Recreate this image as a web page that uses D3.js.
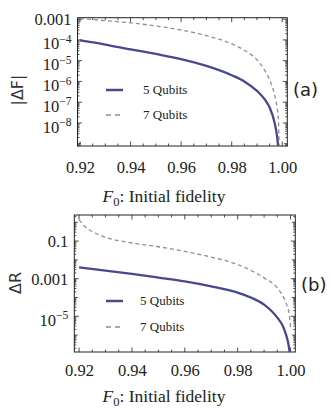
<!DOCTYPE html>
<html>
<head>
<meta charset="utf-8">
<script src="https://cdn.jsdelivr.net/npm/d3@7"></script>
<style>
body { margin: 0; background: #fff; }
svg { display: block; }
</style>
</head>
<body>
<div id="chart"></div>
<script>
// Panel (a): |ΔF| against initial fidelity
const fA5 = [0.92, 0.93, 0.94, 0.95, 0.96, 0.97, 0.98, 0.985, 0.99, 0.993, 0.995, 0.997, 0.998, 0.9985];
const dF5 = [9.5e-5, 6.0e-5, 3.5e-5, 2.1e-5, 1.2e-5, 5.6e-6, 2.0e-6, 1.0e-6, 3.5e-7, 1.4e-7, 5.6e-8, 1.0e-8, 2.0e-9, 5e-10];
const fA7 = [0.92, 0.93, 0.94, 0.95, 0.96, 0.97, 0.98, 0.985, 0.99, 0.993, 0.995, 0.997, 0.998, 0.9985, 0.9988];
const dF7 = [1.07e-3, 8.5e-4, 6.6e-4, 4.7e-4, 3.0e-4, 1.6e-4, 6.5e-5, 3.2e-5, 1.1e-5, 3.5e-6, 1.2e-6, 2.2e-7, 5.2e-8, 1.4e-8, 5e-10];

// Panel (b): ΔR against initial fidelity
const fB5 = [0.92, 0.93, 0.94, 0.95, 0.96, 0.97, 0.98, 0.985, 0.99, 0.993, 0.995, 0.997, 0.998, 0.999, 0.9998];
const dR5 = [4.0e-3, 2.7e-3, 1.8e-3, 1.15e-3, 7.2e-4, 3.9e-4, 1.8e-4, 1.0e-4, 4.2e-5, 1.8e-5, 8.5e-6, 3.2e-6, 1.4e-6, 4.5e-7, 1.0e-7];
const fB7 = [0.92, 0.922, 0.925, 0.93, 0.94, 0.95, 0.96, 0.97, 0.98, 0.99, 0.995, 0.998, 0.9995, 1.0];
const dR7 = [1.4, 0.63, 0.32, 0.16, 0.079, 0.05, 0.028, 0.014, 5.6e-3, 1.1e-3, 3.2e-4, 6.3e-5, 1.3e-5, 2.5e-6];

const seriesNames = ["5 Qubits", "7 Qubits"];
const xTicks = [0.92, 0.94, 0.96, 0.98, 1.00];
const yTicksA = [1e-3, 1e-4, 1e-5, 1e-6, 1e-7, 1e-8];
const yTicksB = [1e-1, 1e-3, 1e-5];

const solidColor = "#48488f";
const dashColor = "#a08699";
const serif = "'Liberation Serif', 'Times New Roman', serif";
const sans = "'DejaVu Sans', sans-serif";

const svg = d3.select("#chart")
  .append("svg")
  .attr("width", 332)
  .attr("height", 408);

// tick labels: decimals for 0.1 / 0.001, powers of ten otherwise
function yLabel(text, v) {
  const e = Math.round(Math.log10(v));
  if (e >= -3) {
    text.text(String(v));
  } else {
    text.append("tspan").text("10");
    text.append("tspan")
      .attr("dy", -6.5)
      .attr("font-size", "11.5px")
      .text("\u2212" + (-e));
  }
}

function drawPanel(p, idx) {
  const x = d3.scaleLinear().domain(p.xDomain).range([p.left, p.right]);
  const y = d3.scaleLog().domain(p.yDomain).range([p.bottom, p.top]);
  const g = svg.append("g");

  g.append("clipPath").attr("id", "clip" + idx)
    .append("rect")
    .attr("x", p.left).attr("y", p.top)
    .attr("width", p.right - p.left).attr("height", p.bottom - p.top);

  // minor / major ticks, on all four sides, pointing inward
  const xMinor = d3.range(0.92, 1.0001, 0.005).filter(v => v >= p.xDomain[0] && v <= p.xDomain[1]);
  const yMinor = [];
  const lo = Math.floor(Math.log10(p.yDomain[0])), hi = Math.ceil(Math.log10(p.yDomain[1]));
  for (let e = lo; e <= hi; e++) {
    for (let k = 1; k <= 9; k++) {
      const v = k * Math.pow(10, e);
      if (v >= p.yDomain[0] && v <= p.yDomain[1]) {
        const labelled = p.yTicks.some(t => Math.abs(Math.log10(t) - e) < 1e-9);
        yMinor.push({v: v, len: k === 1 ? (labelled ? 4.5 : 3.5) : 2});
      }
    }
  }

  const ticks = g.append("g").attr("stroke", "#222").attr("stroke-width", 0.8);
  xMinor.forEach(v => {
    const major = xTicks.some(t => Math.abs(t - v) < 1e-6);
    const len = major ? 4.5 : 2.5;
    ticks.append("line").attr("x1", x(v)).attr("x2", x(v)).attr("y1", p.bottom).attr("y2", p.bottom - len);
    ticks.append("line").attr("x1", x(v)).attr("x2", x(v)).attr("y1", p.top).attr("y2", p.top + len);
  });
  yMinor.forEach(t => {
    ticks.append("line").attr("x1", p.left).attr("x2", p.left + t.len).attr("y1", y(t.v)).attr("y2", y(t.v));
    ticks.append("line").attr("x1", p.right).attr("x2", p.right - t.len).attr("y1", y(t.v)).attr("y2", y(t.v));
  });

  // x tick labels through a d3 axis
  const xAxis = g.append("g")
    .attr("transform", `translate(0,${p.bottom})`)
    .call(d3.axisBottom(x).tickValues(xTicks).tickFormat(d3.format(".2f")).tickSize(0).tickPadding(p.xPad));
  xAxis.select(".domain").remove();
  xAxis.selectAll("text")
    .attr("font-family", serif).attr("font-size", "16.5px").attr("fill", "#222");

  // y tick labels through a d3 axis
  const yAxis = g.append("g")
    .attr("transform", `translate(${p.left},0)`)
    .call(d3.axisLeft(y).tickValues(p.yTicks).tickFormat("").tickSize(0));
  yAxis.select(".domain").remove();
  yAxis.selectAll(".tick").each(function(d) {
    const t = d3.select(this).append("text")
      .attr("x", -6)
      .attr("dy", d >= 1e-3 ? "0.35em" : "0.55em")
      .attr("text-anchor", "end")
      .attr("font-family", serif).attr("font-size", "16.5px").attr("fill", "#222");
    yLabel(t, d);
  });

  // frame
  g.append("rect")
    .attr("x", p.left).attr("y", p.top)
    .attr("width", p.right - p.left).attr("height", p.bottom - p.top)
    .attr("fill", "none").attr("stroke", "#222").attr("stroke-width", 1);

  const line = d3.line()
    .x(d => x(d[0]))
    .y(d => y(d[1]))
    .curve(d3.curveMonotoneX);

  const plot = g.append("g").attr("clip-path", `url(#clip${idx})`);
  plot.append("path")
    .datum(d3.zip(p.f7, p.v7))
    .attr("d", line)
    .attr("fill", "none").attr("stroke", dashColor).attr("stroke-width", 1.3)
    .attr("stroke-dasharray", "4,3");
  plot.append("path")
    .datum(d3.zip(p.f5, p.v5))
    .attr("d", line)
    .attr("fill", "none").attr("stroke", solidColor).attr("stroke-width", 2.3);

  // legend
  const lg = g.append("g");
  [0, 1].forEach(i => {
    const ly = p.legendY + i * p.legendGap;
    lg.append("line")
      .attr("x1", 106).attr("x2", 123).attr("y1", ly).attr("y2", ly)
      .attr("stroke", i === 0 ? solidColor : dashColor)
      .attr("stroke-width", i === 0 ? 2.5 : 1.3)
      .attr("stroke-dasharray", i === 0 ? null : "5,4");
    lg.append("text")
      .attr("x", p.legendX).attr("y", ly + 4)
      .attr("font-family", serif).attr("font-size", "13px").attr("fill", "#222")
      .text(seriesNames[i]);
  });

  // axis titles
  const xt = g.append("text")
    .attr("x", 164).attr("y", p.titleY)
    .attr("text-anchor", "middle")
    .attr("font-family", serif).attr("font-size", "17.5px").attr("fill", "#222");
  xt.append("tspan").attr("font-style", "italic").text("F");
  xt.append("tspan").attr("dy", 4).attr("font-size", "12.5px").text("0");
  xt.append("tspan").attr("dy", -4).text(": Initial fidelity");

  g.append("text")
    .attr("transform", `translate(${p.yTitleX},${p.yTitleY}) rotate(-90)`)
    .attr("text-anchor", "middle")
    .attr("font-family", sans).attr("font-size", "16px").attr("fill", "#333")
    .text(p.yTitle);

  g.append("text")
    .attr("x", p.tagX).attr("y", p.tagY)
    .attr("font-family", sans).attr("font-size", "18px").attr("fill", "#222")
    .text(p.tag);
}

drawPanel({
  left: 77.5, right: 287.3, top: 17.7, bottom: 146,
  xDomain: [0.919, 1.002], yDomain: [Math.pow(10, -9.11), Math.pow(10, -2.93)],
  yTicks: yTicksA, f5: fA5, v5: dF5, f7: fA7, v7: dF7,
  xPad: 15, legendX: 143, legendY: 90, legendGap: 25,
  titleY: 202, yTitle: "|\u0394F|", yTitleX: 23, yTitleY: 90,
  tag: "(a)", tagX: 293, tagY: 96
}, 0);

drawPanel({
  left: 74.3, right: 295.3, top: 215, bottom: 352,
  xDomain: [0.9182, 1.0018], yDomain: [Math.pow(10, -6.9), Math.pow(10, 0.387)],
  yTicks: yTicksB, f5: fB5, v5: dR5, f7: fB7, v7: dR7,
  xPad: 12, legendX: 140, legendY: 301, legendGap: 26,
  titleY: 402, yTitle: "\u0394R", yTitleX: 21, yTitleY: 283,
  tag: "(b)", tagX: 301, tagY: 291
}, 1);
</script>
</body>
</html>
